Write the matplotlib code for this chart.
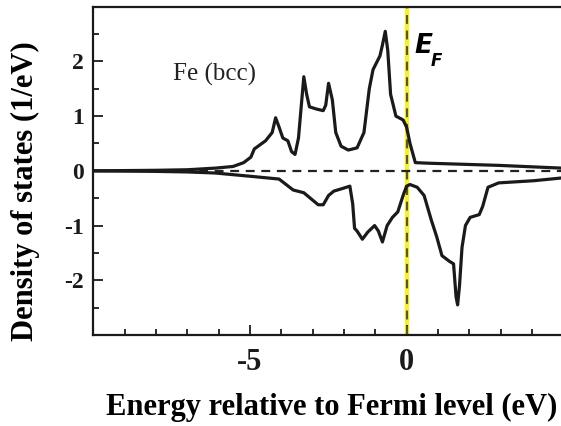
import matplotlib.pyplot as plt
from matplotlib.ticker import MultipleLocator

plt.rcParams["axes.unicode_minus"] = False

# Spin-resolved DOS of bcc Fe
up_energy = [-10.0, -8.0, -7.0, -6.1, -5.54, -5.2, -4.97, -4.86, -4.5, -4.29, -4.18,
             -4.07, -3.95, -3.79, -3.67, -3.56, -3.45, -3.28, -3.19, -3.1, -2.88,
             -2.66, -2.58, -2.49, -2.37, -2.26, -2.09, -1.86, -1.58, -1.36, -1.19,
             -1.07, -0.85, -0.77, -0.68, -0.6, -0.51, -0.34, -0.11, 0.0, 0.11, 0.28,
             0.68, 2.94, 4.95]
up_dos = [0.0, 0.01, 0.02, 0.05, 0.08, 0.15, 0.25, 0.4, 0.55, 0.7, 0.97,
          0.8, 0.6, 0.55, 0.35, 0.3, 0.6, 1.72, 1.4, 1.17, 1.13,
          1.1, 1.2, 1.6, 1.3, 0.7, 0.45, 0.38, 0.42, 0.7, 1.5,
          1.85, 2.1, 2.3, 2.55, 2.2, 1.4, 1.0, 0.93, 0.8, 0.5, 0.15,
          0.14, 0.1, 0.05]

down_energy = [-10.0, -8.0, -7.0, -6.1, -4.97, -4.07, -3.62, -3.28, -2.82, -2.66,
               -2.49, -2.32, -2.03, -1.81, -1.72, -1.66, -1.58, -1.41, -1.24, -1.02,
               -0.9, -0.77, -0.62, -0.45, -0.28, -0.11, 0.0, 0.11, 0.34, 0.56,
               0.79, 0.96, 1.13, 1.36, 1.5, 1.58, 1.63, 1.69, 1.77, 1.88, 2.03,
               2.32, 2.43, 2.6, 2.94, 4.07, 4.95]
down_dos = [0.0, -0.01, -0.02, -0.04, -0.1, -0.15, -0.35, -0.4, -0.62, -0.62,
            -0.45, -0.37, -0.32, -0.28, -0.6, -1.05, -1.1, -1.25, -1.12, -1.0,
            -1.1, -1.3, -1.0, -0.85, -0.75, -0.45, -0.28, -0.25, -0.3, -0.45,
            -0.9, -1.2, -1.55, -1.65, -1.7, -2.3, -2.45, -2.1, -1.4, -1.0, -0.85,
            -0.8, -0.65, -0.3, -0.22, -0.18, -0.13]

x_ticks = [-5, 0]
y_ticks = [-2, -1, 0, 1, 2]

serif = "Liberation Serif"

fig = plt.figure(figsize=(5.61, 4.26), dpi=100)
ax = fig.add_axes([0.1663, 0.2136, 0.8337, 0.7707])

# Fermi level marker: yellow band with a dark dashed line on top
ax.axvline(0, color="#f5f032", lw=3.2, zorder=1)
ax.axvline(0, color="#5a5a20", lw=1.6, ls=(0, (4, 3)), zorder=2)

ax.plot([-7.6, 4.95], [0, 0], color="#222222", lw=1.6, ls=(0, (4, 3)), zorder=3)
ax.plot(up_energy, up_dos, color="#1a1a1a", lw=2.3, zorder=4)
ax.plot(down_energy, down_dos, color="#1a1a1a", lw=2.3, zorder=4)

ax.set_xlim(-10.0, 4.93)
ax.set_ylim(-3.0, 3.0)
ax.set_xticks(x_ticks)
ax.set_yticks(y_ticks)
ax.xaxis.set_minor_locator(MultipleLocator(1))
ax.yaxis.set_minor_locator(MultipleLocator(0.5))
ax.tick_params(which="both", direction="in", width=1.3, colors="#1a1a1a")
ax.tick_params(which="major", length=7)
ax.tick_params(which="minor", length=4)
ax.tick_params(axis="x", labelsize=22, pad=9)
ax.tick_params(axis="y", labelsize=17, pad=7)
for lab in ax.get_xticklabels() + ax.get_yticklabels():
    lab.set_family(serif)
    lab.set_fontweight("bold")

ax.spines["right"].set_visible(False)
for s in ["left", "top", "bottom"]:
    ax.spines[s].set_linewidth(1.6)
    ax.spines[s].set_color("#1a1a1a")

fig.text(332 / 561, 1 - 407 / 426, "Energy relative to Fermi level (eV)",
         family=serif, fontweight="bold", fontsize=22, ha="center", va="center")
fig.text(25 / 561, 1 - 191 / 426, "Density of states (1/eV)", family=serif,
         fontweight="bold", fontsize=22, rotation=90, ha="center", va="center")

ax.text(-7.47, 1.76, "Fe (bcc)", family=serif, fontsize=18, color="#222222",
        va="center", ha="left")
ax.text(0.25, 2.29, "E", family="DejaVu Sans", fontweight="bold", style="italic",
        fontsize=19, va="center", ha="left")
ax.text(0.76, 2.0, "F", family="DejaVu Sans", fontweight="bold", style="italic",
        fontsize=12, va="center", ha="left")

fig.savefig("out.png", dpi=100)
